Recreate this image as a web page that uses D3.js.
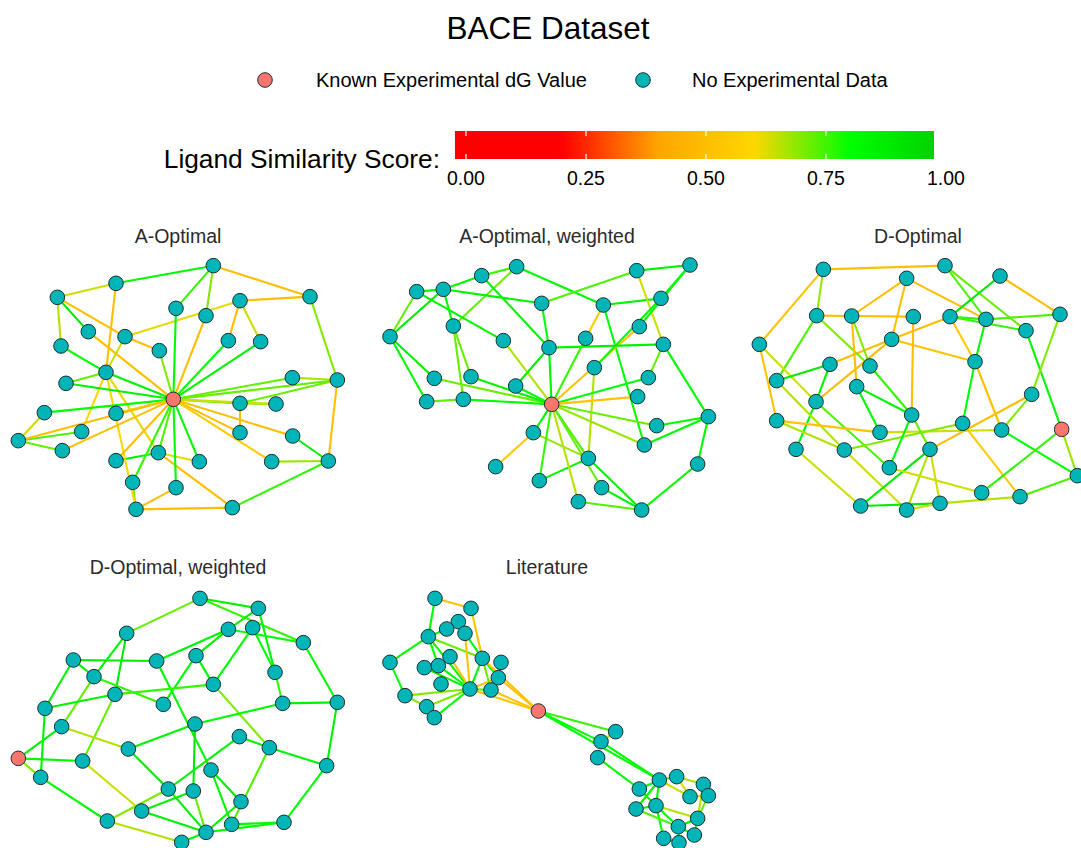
<!DOCTYPE html>
<html>
<head>
<meta charset="utf-8">
<script src="https://cdn.jsdelivr.net/npm/d3@7"></script>
<style>
  html, body { margin: 0; padding: 0; background: #fff; }
  svg { display: block; font-family: "Liberation Sans", Arial, sans-serif; }
</style>
</head>
<body>
<svg id="chart" width="1081" height="848"></svg>
<script>
// ---- data -------------------------------------------------------------
// Node layout coordinates per network (layout units, 0..1050 wide) and
// edges as [from, to, ligand similarity] with 1-based node numbers.

const chartTitle = "BACE Dataset";
const legendLabels = ["Known Experimental dG Value", "No Experimental Data"];
const colorbarTitle = "Ligand Similarity Score:";
const colorbarTicks = [0, 0.25, 0.5, 0.75, 1.0];
const colorbarRange = [-0.023, 0.975];
const panelTitles = ["A-Optimal", "A-Optimal, weighted", "D-Optimal", "D-Optimal, weighted", "Literature"];
const knownNode = [18, 24, 26, 23, 20];

const aOptNodes = [
  [640,47],[348,100],[172,142],[930,140],[720,152],[528,175],[618,197],[265,245],[375,260],
  [685,272],[782,275],[183,288],[478,302],[318,367],[877,383],[198,400],[1012,390],[520,448],
  [720,460],[828,462],[133,488],[348,490],[245,545],[720,548],[55,572],[878,558],[187,602],
  [475,608],[348,632],[598,635],[815,635],[985,633],[398,697],[528,713],[408,778],[697,773]
];
const aOptEdges = [
  [1,2,.82],[1,4,.5],[1,6,.76],[1,7,.7],[2,3,.64],[2,14,.5],[3,12,.66],[3,8,.9],[3,9,.5],
  [9,13,.5],[9,5,.62],[9,14,.64],[5,4,.5],[5,10,.5],[5,11,.64],[4,17,.7],[17,15,.66],[17,19,.72],
  [17,32,.5],[32,26,.85],[32,31,.68],[32,36,.76],[36,35,.5],[35,33,.7],[35,34,.5],[28,29,.85],
  [28,30,.62],[28,36,.5],[19,20,.7],[19,24,.5],[12,14,.8],[14,16,.72],[14,35,.6],[14,23,.6],
  [14,28,.62],[21,25,.64],[25,23,.74],[25,27,.72],
  [18,6,.82],[18,7,.5],[18,10,.8],[18,11,.85],[18,13,.7],[18,14,.85],[18,16,.85],[18,15,.72],
  [18,17,.72],[18,19,.74],[18,21,.8],[18,22,.55],[18,25,.5],[18,27,.5],[18,24,.5],[18,26,.5],
  [18,31,.55],[18,28,.74],[18,29,.5],[18,30,.82],[18,34,.8],[18,33,.76],[18,8,.5],[18,20,.64]
];

const aOptWNodes = [
  [425,50],[785,62],[945,45],[320,77],[125,125],[205,118],[500,160],[685,165],[858,145],
  [235,228],[793,230],[45,260],[632,265],[385,272],[522,293],[865,283],[658,353],[178,385],
  [288,380],[820,383],[422,408],[155,455],[265,448],[530,463],[788,440],[1000,500],[845,527],
  [475,548],[808,585],[640,625],[968,642],[362,650],[493,692],[680,713],[610,755],[800,780]
];
const aOptWEdges = [
  [1,4,.76],[1,8,.82],[1,10,.72],[4,6,.82],[4,15,.85],[5,6,.82],[5,12,.72],[5,14,.85],[6,7,.85],
  [6,12,.88],[6,10,.8],[7,15,.8],[7,2,.74],[8,9,.85],[8,13,.55],[8,29,.8],[2,3,.85],[2,16,.64],
  [3,9,.82],[3,11,.82],[11,24,.52],[9,17,.8],[12,18,.85],[12,22,.82],[10,19,.72],[10,23,.72],
  [18,24,.72],[19,24,.85],[22,23,.72],[23,24,.8],[14,24,.66],[15,24,.85],[15,21,.88],[15,16,.85],
  [13,24,.76],[17,30,.66],[16,20,.72],[16,26,.82],[20,24,.8],[25,24,.52],[26,27,.82],[26,29,.82],
  [26,31,.82],[27,24,.72],[29,24,.68],[31,36,.82],[28,24,.82],[28,32,.55],[28,30,.68],[30,33,.85],
  [30,36,.85],[34,36,.85],[35,36,.74],[35,24,.66],[34,24,.72],[33,24,.76],[30,24,.74],[21,24,.82]
];

const dOptNodes = [
  [250,58],[615,47],[500,85],[780,78],[230,197],[335,198],[520,200],[630,200],[738,208],
  [960,193],[858,242],[58,283],[455,268],[705,335],[270,343],[390,348],[110,392],[350,410],
  [228,455],[875,433],[515,495],[110,512],[668,520],[420,547],[785,540],[965,538],[168,598],
  [313,600],[570,598],[448,653],[1012,677],[725,728],[840,740],[362,768],[500,780],[600,760]
];
const dOptEdges = [
  [1,2,.5],[1,5,.68],[1,12,.52],[2,9,.74],[2,11,.72],[3,6,.5],[3,13,.5],[3,9,.5],[4,8,.9],
  [4,10,.5],[13,8,.5],[15,13,.5],[19,13,.5],[5,6,.5],[5,16,.7],[5,17,.74],[6,7,.5],[6,16,.7],
  [6,18,.5],[7,21,.5],[8,9,.76],[8,11,.76],[8,14,.55],[9,10,.74],[9,14,.82],[11,26,.82],
  [10,20,.7],[12,22,.52],[12,19,.64],[13,14,.52],[17,15,.88],[15,19,.85],[16,21,.76],[18,21,.85],
  [18,24,.82],[14,23,.8],[14,25,.5],[20,25,.7],[20,29,.5],[19,27,.82],[19,30,.74],[17,28,.66],
  [22,24,.52],[22,28,.66],[24,25,.64],[28,23,.7],[28,35,.64],[27,34,.64],[21,30,.82],[21,29,.72],
  [29,35,.66],[29,34,.88],[29,36,.64],[34,36,.88],[35,36,.64],[30,32,.64],[36,33,.66],[23,33,.55],
  [25,31,.8],[26,32,.76],[26,31,.68],[31,33,.74]
];

const dOptWNodes = [
  [600,40],[775,70],[380,145],[685,133],[758,128],[910,173],[220,225],[470,228],[588,212],
  [282,275],[825,262],[640,298],[345,328],[490,358],[848,355],[1012,352],[135,370],[585,417],
  [185,425],[718,455],[385,492],[808,488],[55,520],[248,528],[980,542],[633,555],[122,577],
  [505,612],[580,618],[723,650],[425,678],[322,708],[695,718],[852,712],[618,742],[545,772]
];
const dOptWEdges = [
  [1,2,.85],[1,3,.72],[1,6,.76],[2,4,.85],[2,11,.85],[3,10,.85],[3,13,.88],[4,8,.85],[4,9,.85],
  [4,6,.8],[5,12,.82],[6,16,.82],[7,8,.88],[7,10,.85],[7,17,.85],[8,26,.82],[9,12,.82],[9,14,.82],
  [10,14,.76],[10,19,.72],[11,15,.76],[12,13,.76],[12,22,.7],[13,17,.85],[13,24,.72],[15,16,.85],
  [15,18,.82],[16,25,.85],[17,27,.85],[19,23,.85],[19,21,.66],[18,21,.85],[18,29,.88],[20,22,.85],
  [20,28,.85],[21,28,.88],[22,25,.85],[22,33,.74],[23,24,.82],[23,27,.7],[24,31,.64],[25,34,.82],
  [26,33,.85],[26,30,.88],[27,32,.82],[28,32,.7],[28,35,.85],[29,31,.85],[29,35,.72],[30,35,.85],
  [31,35,.85],[32,36,.66],[33,34,.82],[35,36,.82],[34,35,.82],[5,11,.8]
];

const litNodes = [
  [180,40],[288,70],[250,110],[215,132],[270,145],[160,155],[45,232],[225,215],[322,220],
  [378,232],[148,248],[190,242],[370,278],[198,297],[285,312],[348,315],[90,332],[155,365],
  [178,398],[490,378],[722,440],[678,470],[668,518],[853,585],[905,575],[793,612],[985,598],
  [945,635],[1000,632],[843,662],[783,672],[968,700],[910,725],[958,750],[866,760],[912,773]
];
const litEdges = [
  [1,2,.52],[1,6,.82],[2,9,.52],[6,7,.82],[6,4,.82],[6,12,.8],[6,15,.82],[6,9,.72],[3,5,.8],
  [4,3,.78],[5,9,.82],[5,15,.52],[7,17,.8],[17,15,.7],[17,18,.7],[18,19,.72],[19,15,.8],
  [18,15,.7],[12,15,.82],[11,15,.82],[8,15,.52],[15,9,.82],[15,13,.52],[15,16,.74],[9,13,.8],
  [9,16,.72],[9,20,.52],[10,16,.52],[13,16,.76],[13,20,.52],[16,20,.52],[15,20,.52],[20,21,.76],
  [20,22,.82],[20,24,.8],[21,22,.66],[22,24,.82],[23,26,.82],[24,26,.82],[24,31,.82],[24,25,.74],
  [24,28,.64],[25,27,.66],[25,28,.62],[27,29,.74],[28,29,.64],[27,32,.66],[29,32,.72],[30,31,.82],
  [24,30,.82],[30,33,.82],[30,35,.8],[31,33,.74],[33,32,.85],[32,34,.74],[33,34,.82],[35,36,.82],
  [30,32,.66],[26,30,.82],[33,36,.76]
];

// ---- layout -----------------------------------------------------------
const panelLayout = [
  { ox: 0,   oy: 250, tx: 178, ty: 243 },
  { ox: 375, oy: 250, tx: 547, ty: 243 },
  { ox: 740, oy: 250, tx: 918, ty: 243 },
  { ox: 0,   oy: 585, tx: 178, ty: 574 },
  { ox: 375, oy: 585, tx: 547, ty: 574 }
];
const networks = [
  { nodes: aOptNodes,  edges: aOptEdges },
  { nodes: aOptWNodes, edges: aOptWEdges },
  { nodes: dOptNodes,  edges: dOptEdges },
  { nodes: dOptWNodes, edges: dOptWEdges },
  { nodes: litNodes,   edges: litEdges }
];

const svg = d3.select("#chart");
svg.append("rect").attr("width", 1081).attr("height", 848).attr("fill", "#fff");

const knownColor = "#F8766D";
const otherColor = "#00B5B8";
const nodeStroke = "#1c2f2f";
const nodeR = 7.3;

const simColor = d3.scaleLinear()
  .domain([0, 0.2, 0.4, 0.6, 0.8, 1])
  .range(["#FF0000", "#FF0000", "#FFA500", "#FFD700", "#00FF00", "#00CD00"])
  .clamp(true);

// ---- title & legends --------------------------------------------------
svg.append("text")
  .attr("x", 548).attr("y", 39)
  .attr("text-anchor", "middle")
  .attr("font-size", 31.5)
  .attr("fill", "#000")
  .text(chartTitle);

const legendItems = [
  { cx: 265, tx: 316, color: knownColor, label: legendLabels[0] },
  { cx: 643, tx: 692, color: otherColor, label: legendLabels[1] }
];
const lg = svg.append("g");
lg.selectAll("circle").data(legendItems).join("circle")
  .attr("cx", d => d.cx).attr("cy", 80).attr("r", nodeR)
  .attr("fill", d => d.color).attr("stroke", nodeStroke).attr("stroke-width", 1);
lg.selectAll("text").data(legendItems).join("text")
  .attr("x", d => d.tx).attr("y", 87)
  .attr("font-size", 20).attr("fill", "#000")
  .text(d => d.label);

// colour bar
const cbX = d3.scaleLinear().domain([0, 1]).range([466, 946]);
const cbTop = 131, cbH = 28;
const defs = svg.append("defs");
const grad = defs.append("linearGradient").attr("id", "simGrad")
  .attr("x1", "0%").attr("x2", "100%").attr("y1", "0%").attr("y2", "0%");
d3.range(0, 41).forEach(i => {
  const t = i / 40;
  const v = colorbarRange[0] + t * (colorbarRange[1] - colorbarRange[0]);
  grad.append("stop").attr("offset", (t * 100) + "%").attr("stop-color", simColor(v));
});
svg.append("rect")
  .attr("x", cbX(colorbarRange[0])).attr("y", cbTop)
  .attr("width", cbX(colorbarRange[1]) - cbX(colorbarRange[0]))
  .attr("height", cbH)
  .attr("fill", "url(#simGrad)");
const inBar = colorbarTicks.filter(t => t >= colorbarRange[0] && t <= colorbarRange[1]);
svg.append("g").selectAll("line").data(inBar.flatMap(t => [[t, cbTop, cbTop + 5], [t, cbTop + cbH - 5, cbTop + cbH]]))
  .join("line")
  .attr("x1", d => cbX(d[0])).attr("x2", d => cbX(d[0]))
  .attr("y1", d => d[1]).attr("y2", d => d[2])
  .attr("stroke", "#fff").attr("stroke-width", 1.2);
svg.append("g").selectAll("text").data(colorbarTicks).join("text")
  .attr("x", d => cbX(d)).attr("y", 185)
  .attr("text-anchor", "middle")
  .attr("font-size", 19.5).attr("fill", "#000")
  .text(d => d3.format(".2f")(d));
svg.append("text")
  .attr("x", 440).attr("y", 168)
  .attr("text-anchor", "end")
  .attr("font-size", 26.3).attr("fill", "#000")
  .text(colorbarTitle);

// ---- network panels ---------------------------------------------------
networks.forEach((net, p) => {
  const L = panelLayout[p];
  const x = d3.scaleLinear().domain([0, 1050]).range([L.ox, L.ox + 350]);
  const y = d3.scaleLinear().domain([0, 1050]).range([L.oy, L.oy + 350]);
  const g = svg.append("g");

  g.append("text")
    .attr("x", L.tx).attr("y", L.ty)
    .attr("text-anchor", "middle")
    .attr("font-size", 19.5).attr("fill", "#2b2b2b")
    .text(panelTitles[p]);

  g.append("g").selectAll("line").data(net.edges).join("line")
    .attr("x1", d => x(net.nodes[d[0] - 1][0]))
    .attr("y1", d => y(net.nodes[d[0] - 1][1]))
    .attr("x2", d => x(net.nodes[d[1] - 1][0]))
    .attr("y2", d => y(net.nodes[d[1] - 1][1]))
    .attr("stroke", d => simColor(d[2]))
    .attr("stroke-width", 2.1);

  g.append("g").selectAll("circle").data(net.nodes).join("circle")
    .attr("cx", d => x(d[0])).attr("cy", d => y(d[1]))
    .attr("r", nodeR)
    .attr("fill", (d, i) => i + 1 === knownNode[p] ? knownColor : otherColor)
    .attr("stroke", nodeStroke).attr("stroke-width", 1);
});
</script>
</body>
</html>
